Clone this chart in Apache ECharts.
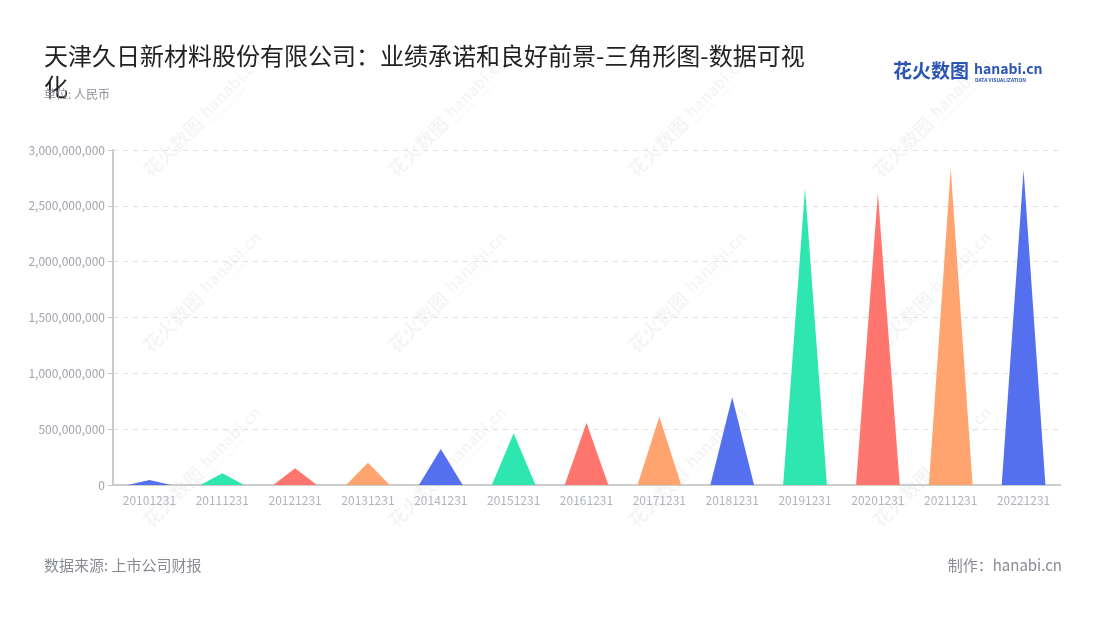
<!DOCTYPE html>
<html>
<head>
<meta charset="utf-8">
<script src="https://cdn.jsdelivr.net/npm/echarts@6/dist/echarts.min.js"></script>
<style>
html,body{margin:0;padding:0;background:#fff;}
#main{width:1100px;height:620px;}
</style>
</head>
<body>
<div id="main"></div>
<script>
const categories = ['20101231','20111231','20121231','20131231','20141231','20151231','20161231','20171231','20181231','20191231','20201231','20211231','20221231'];
const values = [45000000, 105000000, 150000000, 200000000, 322000000, 463000000, 558000000, 612000000, 785000000, 2657000000, 2612000000, 2836000000, 2821000000];
const palette = ['#5470EE', '#2EE6B0', '#FF766F', '#FFA46E'];
const titleText = '天津久日新材料股份有限公司：业绩承诺和良好前景-三角形图-数据可视化';
const subtitleText = '单位: 人民币';
const sourceText = '数据来源: 上市公司财报';
const makerText = '制作：hanabi.cn';

const FONT = '"Noto Sans CJK SC","Noto Sans",sans-serif';

const chart = echarts.init(document.getElementById('main'));

const watermarks = [];
const wmX = [190, 435, 675, 920];
const wmY = [130, 305, 480];
wmY.forEach(function (y) {
  wmX.forEach(function (x) {
    watermarks.push({
      type: 'group', x: x, y: y, rotation: Math.PI / 4, silent: true, z: 0,
      children: [
        { type: 'text', style: { text: '花火数图', x: -62, y: 0, font: 'bold 19px ' + FONT, fill: 'rgba(0,0,0,0.04)', textVerticalAlign: 'middle' } },
        { type: 'text', style: { text: 'hanabi.cn', x: 20, y: -2, font: 'bold 16px ' + FONT, fill: 'rgba(0,0,0,0.04)', textVerticalAlign: 'middle' } },
        { type: 'text', style: { text: 'DATA VISUALIZATION', x: 20, y: 10, font: '5px ' + FONT, fill: 'rgba(0,0,0,0.04)', textVerticalAlign: 'middle' } }
      ]
    });
  });
});

const option = {
  backgroundColor: '#fff',
  textStyle: { fontFamily: FONT },
  title: [
    {
      text: titleText,
      left: 44, top: 40, padding: 0,
      textStyle: { fontSize: 24, fontWeight: 'normal', color: '#222', width: 770, overflow: 'break', lineHeight: 31, fontFamily: FONT }
    },
    {
      text: subtitleText,
      left: 44, top: 88, padding: 0,
      textStyle: { fontSize: 12, fontWeight: 'normal', color: '#8c8f99', fontFamily: FONT }
    }
  ],
  grid: { left: 113, right: 40, top: 150, bottom: 135 },
  xAxis: {
    type: 'category',
    data: categories,
    axisLine: { lineStyle: { color: '#cccccc', width: 2 } },
    axisTick: { alignWithLabel: true, lineStyle: { color: '#cccccc' } },
    axisLabel: { color: '#b0b3bd', fontSize: 12, margin: 9, fontFamily: FONT }
  },
  yAxis: {
    type: 'value',
    min: 0, max: 3000000000, interval: 500000000,
    axisLine: { show: true, lineStyle: { color: '#cccccc', width: 2 } },
    axisTick: { show: true, lineStyle: { color: '#cccccc' } },
    axisLabel: { color: '#a0a3ab', fontSize: 12, fontFamily: FONT,
      formatter: function (v) { return Number(v).toLocaleString('en-US'); } },
    splitLine: { lineStyle: { color: '#e0e0e0', type: [5, 5] } }
  },
  series: [{
    type: 'pictorialBar',
    symbol: 'triangle',
    barCategoryGap: '40%',
    z: 5,
    data: values.map(function (v, i) {
      return { value: v, itemStyle: { color: palette[i % palette.length] } };
    })
  }],
  graphic: watermarks.concat([
    { type: 'text', left: 893, top: 61, z: 10, style: { text: '花火数图', font: 'bold 19px ' + FONT, fill: '#2b55b5' } },
    { type: 'text', left: 974, top: 62, z: 10, style: { text: 'hanabi.cn', font: 'bold 14px ' + FONT, fill: '#2b55b5' } },
    { type: 'text', left: 975, top: 78, z: 10, style: { text: 'DATA VISUALIZATION', font: 'bold 5px ' + FONT, fill: '#2b55b5' } },
    { type: 'text', left: 44, top: 558, style: { text: sourceText, font: '15px ' + FONT, fill: '#888b94' } },
    { type: 'text', right: 38, top: 558, style: { text: makerText, font: '15px ' + FONT, fill: '#888b94' } }
  ])
};
chart.setOption(option);
</script>
</body>
</html>
